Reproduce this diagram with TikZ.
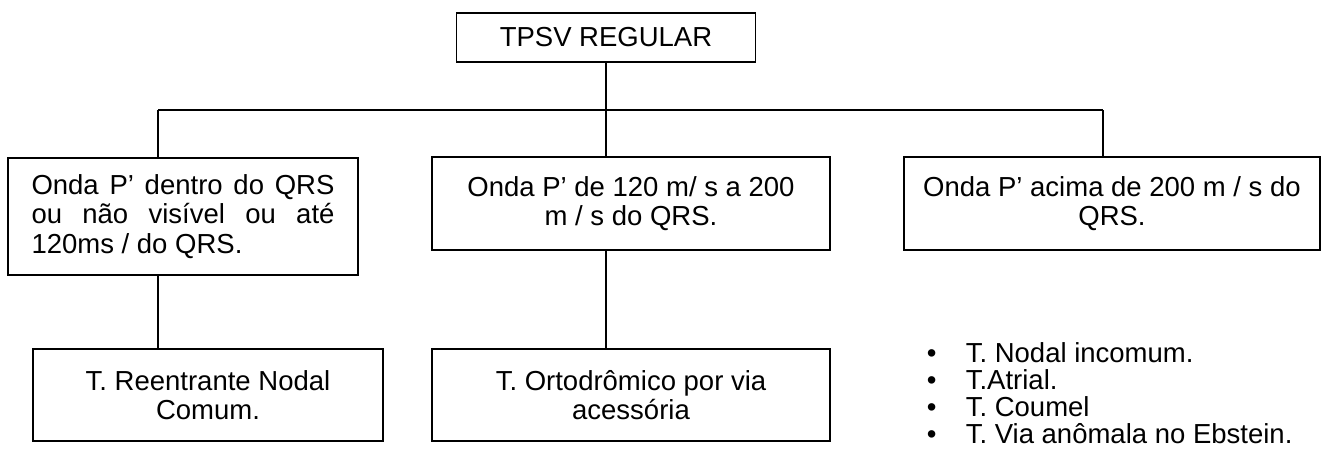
\documentclass[tikz,border=0pt]{standalone}
\usepackage{fontspec}
\setmainfont{Liberation Sans}
\usetikzlibrary{positioning}
\begin{document}
\begin{tikzpicture}[x=1pt, y=-1pt, line width=1.6pt,
  caixa/.style={draw, rectangle, inner sep=0pt, align=center,
    font=\fontsize{27.5}{29.5}\selectfont},
  item/.style={anchor=base west, inner sep=0pt, font=\fontsize{27.5}{29.5}\selectfont}]
  \useasboundingbox (0,0) rectangle (1325,459);
  % top box
  \node[caixa, minimum width=299pt, minimum height=49pt] (tpsv) at (606,37.5) {TPSV REGULAR};
  % second row
  \node[caixa, minimum width=350pt, minimum height=117pt, text width=303pt, align=justify] (ondaA) at (183,216.5)
    {Onda P’ dentro do QRS\linebreak ou não visível ou até\linebreak 120ms / do QRS.};
  \node[caixa, minimum width=398pt, minimum height=93pt] (ondaB) at (631,203.5)
    {Onda P’ de 120 m/ s a 200\\ m / s do QRS.};
  \node[caixa, minimum width=416pt, minimum height=93pt] (ondaC) at (1112,203.5)
    {Onda P’ acima de 200 m / s do\\ QRS.};
  % third row
  \node[caixa, minimum width=350pt, minimum height=92pt] (reent) at (208,395)
    {T. Reentrante Nodal\\ Comum.};
  \node[caixa, minimum width=398pt, minimum height=92pt] (orto) at (631,395)
    {T. Ortodrômico por via\\ acessória};
  % bullet list
  \foreach \txt [count=\i from 0] in {T. Nodal incomum., T.Atrial., T. Coumel, T. Via anômala no Ebstein.}
    \node[item] (lista\i) at (926,{362+27*\i}) {\makebox[39pt][l]{•}\txt};
  % connectors
  \coordinate (hub) at (606,110);
  \coordinate (hubL) at (158,110);
  \coordinate (hubR) at (1103,110);
  \draw (tpsv.south) -- (hub);
  \draw (hubL) -- (hubR);
  \draw (hubL) -- (hubL |- ondaA.north);
  \draw (hub) -- (hub |- ondaB.north);
  \draw (hubR) -- (hubR |- ondaC.north);
  \draw (ondaA.south -| hubL) -- (reent.north -| hubL);
  \draw (ondaB.south -| hub) -- (orto.north -| hub);
\end{tikzpicture}
\end{document}
